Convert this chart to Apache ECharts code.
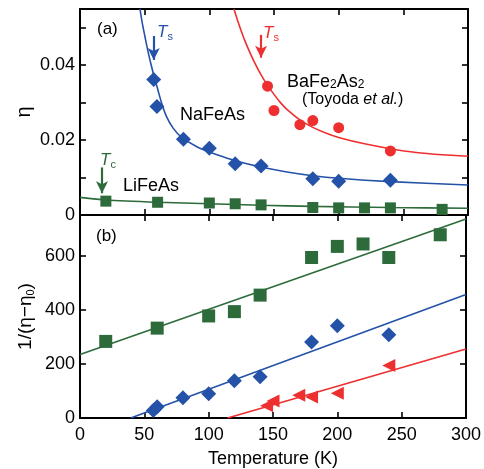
<!DOCTYPE html>
<html><head><meta charset="utf-8">
<script src="https://cdn.jsdelivr.net/npm/echarts@6/dist/echarts.min.js"></script>
<style>html,body{margin:0;padding:0;background:#fff}#c{width:484px;height:469px}</style>
</head><body><div id="c"></div>
<script>
// ---- data (panel a: eta vs T) ----
const T_Na_a = [57, 59.5, 80, 100, 120, 140, 180, 200, 240];
const eta_Na = [0.0362, 0.0290, 0.0202, 0.0178, 0.0137, 0.0131, 0.0097, 0.0090, 0.0093];
const T_Ba_a = [145, 150, 170, 180, 200, 240];
const eta_Ba = [0.0344, 0.0279, 0.0241, 0.0252, 0.0233, 0.0171];
const T_Li_a = [20, 60, 100, 120, 140, 180, 200, 220, 240, 280];
const eta_Li = [0.0037, 0.0034, 0.0032, 0.0030, 0.0027, 0.0020, 0.0019, 0.0019, 0.0019, 0.0015];
// fitted curves
const T_Na_fit = [46.4, 48, 50, 52, 54, 56, 58, 60, 63, 67, 72, 78.6, 90, 100, 110, 120, 140, 160, 180, 200, 240, 300];
const eta_Na_fit = [0.0550, 0.0515, 0.0480, 0.0446, 0.0415, 0.0387, 0.0361, 0.0337, 0.0300, 0.0262, 0.0232, 0.0207, 0.0183, 0.0168, 0.0156, 0.0145, 0.0128, 0.0115, 0.0105, 0.0098, 0.0089, 0.0080];
const T_Ba_fit = [119, 122, 125, 128, 132, 136, 140, 144.3, 150, 155, 160, 170, 180, 190, 200, 220, 240, 260, 280, 300];
const eta_Ba_fit = [0.0550, 0.0518, 0.0488, 0.0461, 0.0429, 0.0400, 0.0374, 0.0350, 0.0322, 0.0300, 0.0282, 0.0254, 0.0234, 0.0219, 0.0207, 0.0190, 0.0177, 0.0167, 0.0161, 0.0157];
const T_Li_fit = [0, 20, 60, 100, 140, 180, 240, 300];
const eta_Li_fit = [0.0047, 0.0040, 0.0034, 0.0030, 0.0026, 0.0023, 0.0020, 0.0018];
// ---- data (panel b: 1/(eta-eta0) vs T) ----
const T_Li_b = [20, 60, 100, 120, 140, 180, 200, 220, 240, 280];
const inv_Li = [283, 332, 377, 393, 454, 593, 634, 643, 593, 677];
const T_Na_b = [57, 60, 80, 100, 120, 140, 180, 200, 240];
const inv_Na = [28, 42, 75, 90, 138, 152, 281, 341, 308];
const T_Ba_b = [145, 150, 170, 180, 200, 240];
const inv_Ba = [45, 63, 84, 78, 91, 194];
const T_Li_line = [0, 300], inv_Li_line = [235, 735];
const T_Na_line = [39.4, 300], inv_Na_line = [0, 456];
const T_Ba_line = [114.7, 300], inv_Ba_line = [0, 255];
// ticks
const xTicks = [0, 50, 100, 150, 200, 250, 300];
const yTicksA = [0, 0.02, 0.04];
const yTicksB = [0, 200, 400, 600];

const BLUE = '#2452a8', GREEN = '#2d6b3b', RED = '#ee2f2f';
const FONT = 'Liberation Sans, Arial, sans-serif';
const zip = (a, b) => a.map((v, i) => [v, b[i]]);

const chart = echarts.init(document.getElementById('c'), null, {renderer: 'canvas'});
const axLine = {show: true, onZero: false, lineStyle: {color: '#000', width: 2}};
const tick = (len) => ({show: true, inside: true, length: len, lineStyle: {color: '#000', width: 1.6}});
function xAx(grid, pos, labels) {
  return {type: 'value', gridIndex: grid, position: pos, min: xTicks[0], max: xTicks[xTicks.length - 1], interval: 50,
    axisLine: axLine, axisTick: tick(6), splitLine: {show: false},
    axisLabel: labels ? {show: true, color: '#000', fontSize: 18, fontFamily: FONT, margin: 8} : {show: false},
    name: labels ? 'Temperature (K)' : '', nameLocation: 'middle', nameGap: 32,
    nameTextStyle: {color: '#000', fontSize: 18, fontFamily: FONT}};
}
const series = [];
function line(xi, yi, xs, ys, color, extra) {
  series.push(Object.assign({type: 'line', xAxisIndex: xi, yAxisIndex: yi, data: zip(xs, ys), showSymbol: false,
    smooth: 0.25, lineStyle: {color, width: 1.6}, itemStyle: {color}, z: 2, silent: true}, extra || {}));
}
function scat(xi, yi, xs, ys, color, symbol, size, rot) {
  series.push({type: 'scatter', xAxisIndex: xi, yAxisIndex: yi, data: zip(xs, ys), symbol, symbolSize: size,
    symbolRotate: rot || 0, itemStyle: {color, opacity: 1}, z: 3, silent: true});
}
const arrow = (x, y1, y2, color) => ({symbol: ['none', 'arrow'], symbolSize: [9, 12], silent: true, animation: false,
  label: {show: false}, lineStyle: {color, width: 2.2, type: 'solid'},
  data: [[{coord: [x, y1]}, {coord: [x, y2]}]]});

// panel a
line(0, 0, T_Na_fit, eta_Na_fit, BLUE, {markLine: arrow(57, 0.0478, 0.0414, BLUE)});
line(0, 0, T_Ba_fit, eta_Ba_fit, RED, {markLine: arrow(140, 0.0481, 0.0420, RED)});
line(0, 0, T_Li_fit, eta_Li_fit, GREEN, {markLine: arrow(17, 0.0127, 0.0058, GREEN)});
scat(0, 0, T_Na_a, eta_Na, BLUE, 'diamond', 15);
scat(0, 0, T_Ba_a, eta_Ba, RED, 'circle', 11);
scat(0, 0, T_Li_a, eta_Li, GREEN, 'rect', 11);
// panel b
line(2, 2, T_Li_line, inv_Li_line, GREEN, {smooth: false});
line(2, 2, T_Na_line, inv_Na_line, BLUE, {smooth: false});
line(2, 2, T_Ba_line, inv_Ba_line, RED, {smooth: false});
scat(2, 2, T_Li_b, inv_Li, GREEN, 'rect', 13);
scat(2, 2, T_Na_b, inv_Na, BLUE, 'diamond', 15);
scat(2, 2, T_Ba_b, inv_Ba, RED, 'triangle', 13, 90);

const near = (v, arr) => arr.some(t => Math.abs(v - t) < 1e-9);
const fmtA = v => near(v, yTicksA) ? (v === 0 ? '0' : v.toFixed(2)) : '';
const fmtB = v => near(v, yTicksB) ? String(v) : '';

const txt = (x, y, text, color, size, rich, extra) => Object.assign({type: 'text', x, y, silent: true, z: 10,
  style: {text, fill: color, fontSize: size, fontFamily: FONT, verticalAlign: 'middle', textAlign: 'left', rich: rich || {}}}, extra || {});
const tsRich = (c) => ({i: {fontStyle: 'italic', fontSize: 17, fill: c, fontFamily: FONT},
  s: {fontSize: 11, fill: c, fontFamily: FONT, verticalAlign: 'bottom', padding: [9, 0, 0, 0]}});

chart.setOption({
  animation: false,
  backgroundColor: '#fff',
  grid: [
    {left: 80, top: 9, width: 388, height: 206, containLabel: false},
    {left: 80, top: 215, width: 388, height: 206, containLabel: false}
  ],
  xAxis: [xAx(0, 'bottom', false), xAx(0, 'top', false), xAx(1, 'bottom', true), xAx(1, 'top', false)],
  yAxis: [
    {type: 'value', gridIndex: 0, position: 'left', min: 0, max: 0.055, interval: 0.01,
      axisLine: axLine, axisTick: tick(6), splitLine: {show: false},
      axisLabel: {formatter: fmtA, color: '#000', fontSize: 18, fontFamily: FONT, margin: 5, showMaxLabel: false},
      name: 'η', nameLocation: 'middle', nameGap: 46, nameRotate: 90, nameMoveOverlap: false,
      nameTextStyle: {color: '#000', fontSize: 20, fontFamily: FONT}},
    {type: 'value', gridIndex: 0, position: 'right', min: 0, max: 0.055, interval: 0.01,
      axisLine: axLine, axisTick: tick(6), splitLine: {show: false}, axisLabel: {show: false}},
    {type: 'value', gridIndex: 1, position: 'left', min: 0, max: 750, interval: 200,
      axisLine: axLine, axisTick: tick(6), splitLine: {show: false},
      axisLabel: {formatter: fmtB, color: '#000', fontSize: 18, fontFamily: FONT, margin: 5, showMaxLabel: false},
      name: '1/(η−η{s|0})', nameLocation: 'middle', nameGap: 44, nameRotate: 90, nameMoveOverlap: false,
      nameTextStyle: {color: '#000', fontSize: 19, fontFamily: FONT,
        rich: {s: {fontSize: 11, fontFamily: FONT, color: '#000', verticalAlign: 'bottom', padding: [9, 0, 0, 0]}}}},
    {type: 'value', gridIndex: 1, position: 'right', min: 0, max: 750, interval: 200,
      axisLine: axLine, axisTick: tick(6), splitLine: {show: false}, axisLabel: {show: false}}
  ],
  series,
  graphic: [
    txt(97, 29, '(a)', '#000', 17),
    txt(96, 236, '(b)', '#000', 17),
    txt(180, 115, 'NaFeAs', '#000', 18),
    txt(123, 186, 'LiFeAs', '#000', 18),
    txt(287, 82, 'BaFe{s|2}As{s|2}', '#000', 18, {s: {fontSize: 12, fontFamily: FONT, fill: '#000', verticalAlign: 'bottom', padding: [6, 0, 0, 0]}}),
    txt(302, 100, '(Toyoda {i|et al.})', '#000', 16, {i: {fontStyle: 'italic', fontSize: 16, fontFamily: FONT, fill: '#000'}}),
    txt(157, 32, '{i|T}{s|s}', BLUE, 17, tsRich(BLUE)),
    txt(263, 33, '{i|T}{s|s}', RED, 17, tsRich(RED)),
    txt(100, 160, '{i|T}{s|c}', GREEN, 17, tsRich(GREEN))
  ]
});
</script></body></html>
